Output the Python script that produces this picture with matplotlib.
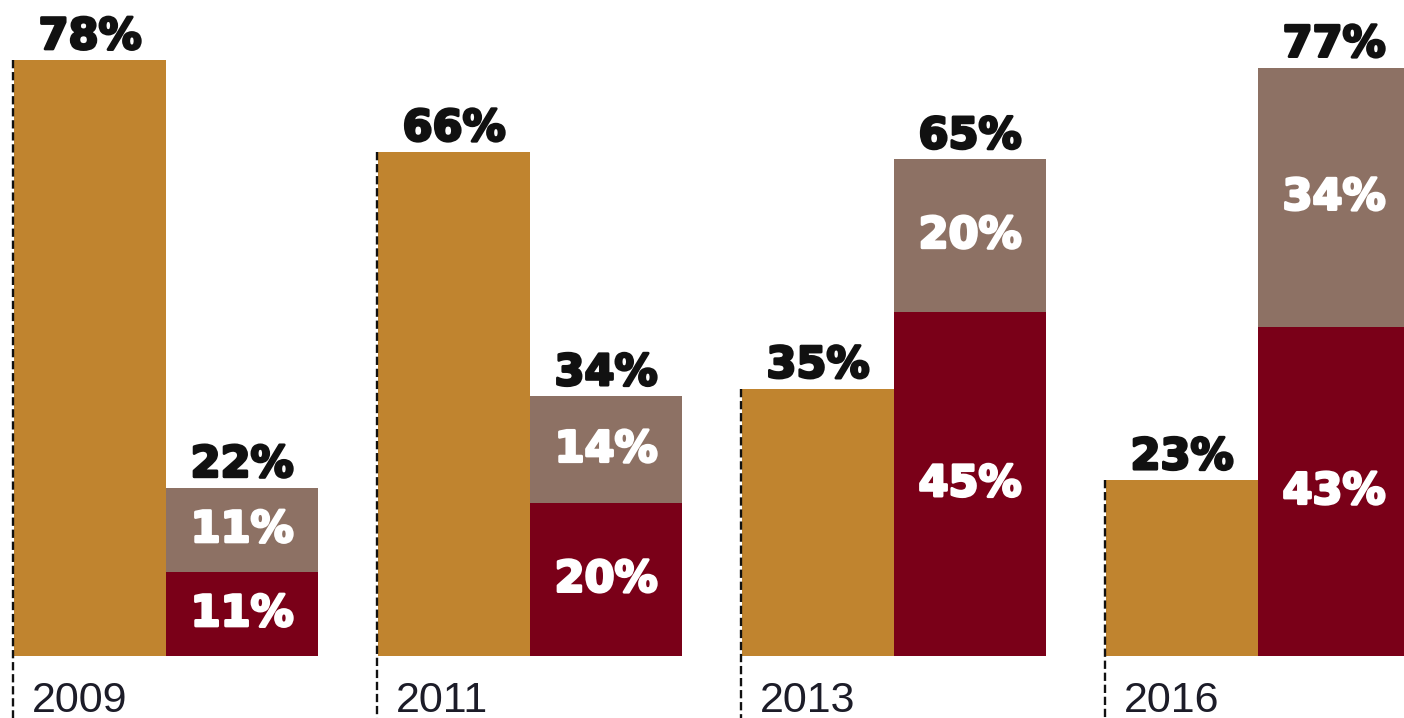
import matplotlib
matplotlib.use("Agg")
import matplotlib.pyplot as plt
import matplotlib.patheffects as pe

years = ["2009", "2011", "2013", "2016"]
gold_vals = [78, 66, 35, 23]
red_vals = [11, 20, 45, 43]
taupe_vals = [11, 14, 20, 34]
totals = [22, 34, 65, 77]

gold = "#C0842F"
dark_red = "#7A0018"
taupe = "#8D7164"

fig = plt.figure(figsize=(14.04, 7.18), dpi=100)
ax = fig.add_axes([0, 0, 1, 1])

w = 152 / 364
x = list(range(len(years)))
x2 = [i + w for i in x]

ax.bar(x, gold_vals, width=w, align="edge", color=gold)
ax.bar(x2, red_vals, width=w, align="edge", color=dark_red)
ax.bar(x2, taupe_vals, width=w, align="edge", bottom=red_vals, color=taupe)

dark_fx = [pe.withStroke(linewidth=2, foreground="#111111")]
white_fx = [pe.withStroke(linewidth=2, foreground="white")]
lab = dict(fontsize=31, fontweight="bold")

ymin = -62 / 7.64
for i in range(len(years)):
    # dashed guide from top of gold bar down
    ax.plot([x[i] - 0.004, x[i] - 0.004], [gold_vals[i], ymin], color="#111111",
            lw=1.7, linestyle=(0, (3.5, 1.6)), zorder=3)
    ax.text(x[i] + 0.05, -7.3, years[i], fontsize=31, family="Liberation Sans",
            color="#1c1c28", va="baseline", ha="left")

    # top labels
    ax.annotate(f"{gold_vals[i]}%", (x[i] + w / 2, gold_vals[i]), xytext=(0, 8),
                textcoords="offset points", ha="center", va="baseline",
                color="#111111", path_effects=dark_fx, **lab)
    ax.annotate(f"{totals[i]}%", (x2[i] + w / 2, totals[i]), xytext=(0, 8),
                textcoords="offset points", ha="center", va="baseline",
                color="#111111", path_effects=dark_fx, **lab)

    # inner labels
    ax.text(x2[i] + w / 2, red_vals[i] / 2, f"{red_vals[i]}%", ha="center", va="center",
            color="white", path_effects=white_fx, **lab)
    ax.text(x2[i] + w / 2, red_vals[i] + taupe_vals[i] / 2, f"{taupe_vals[i]}%",
            ha="center", va="center", color="white", path_effects=white_fx, **lab)

ax.set_xlim(-14 / 364, 1390 / 364)
ax.set_ylim(ymin, 656 / 7.64)
ax.axis("off")

fig.savefig("out.png", dpi=100)
